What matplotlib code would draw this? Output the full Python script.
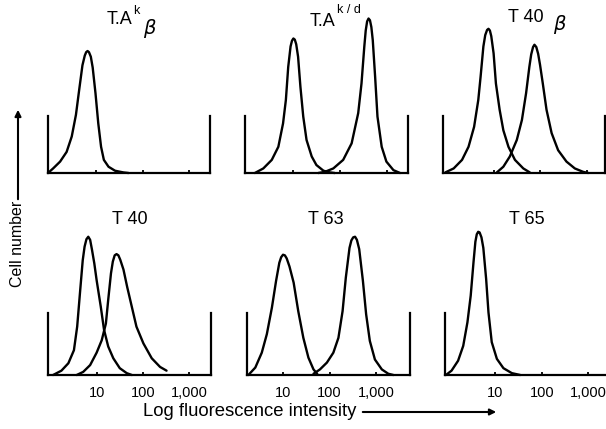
import matplotlib
matplotlib.use("Agg")
import matplotlib.pyplot as plt
from matplotlib.patches import FancyArrowPatch

plt.rcParams["font.family"] = ["Liberation Sans", "DejaVu Sans"]

# x values are log10(fluorescence intensity), y values are relative cell number
# (1.0 = height of the side bars of each panel)
tick_pos = [1, 2, 3]
tick_labels = ["10", "100", "1,000"]

# T.A^k beta
tak_x = [-0.03, 0.08, 0.23, 0.37, 0.48, 0.57, 0.64, 0.71, 0.76, 0.79, 0.82, 0.85, 0.89,
         0.93, 0.99, 1.05, 1.11, 1.17, 1.27, 1.41, 1.59, 1.70]
tak_y = [0.0, 0.08, 0.20, 0.37, 0.64, 1.02, 1.46, 1.89, 2.06, 2.12, 2.14, 2.12, 2.04,
         1.85, 1.40, 0.87, 0.46, 0.23, 0.11, 0.04, 0.01, 0.0]

# T.A^k/d
takd1_x = [0.19, 0.37, 0.55, 0.69, 0.79, 0.85, 0.90, 0.95, 0.98, 1.01, 1.04, 1.07, 1.11,
           1.16, 1.22, 1.29, 1.40, 1.50, 1.65, 1.79, 1.89]
takd1_y = [0.0, 0.08, 0.23, 0.46, 0.87, 1.28, 1.86, 2.22, 2.32, 2.36, 2.34, 2.26, 2.04,
           1.51, 0.99, 0.58, 0.29, 0.14, 0.04, 0.01, 0.0]
takd2_x = [1.54, 1.68, 1.86, 2.07, 2.25, 2.39, 2.46, 2.52, 2.55, 2.58, 2.61, 2.64, 2.67,
           2.70, 2.75, 2.80, 2.89, 2.99, 3.14, 3.28]
takd2_y = [0.0, 0.02, 0.08, 0.23, 0.52, 1.05, 1.57, 2.22, 2.50, 2.66, 2.71, 2.68, 2.56,
           2.33, 1.69, 0.99, 0.46, 0.20, 0.05, 0.0]

# T 40 beta
t40b1_x = [-0.05, 0.13, 0.31, 0.45, 0.57, 0.66, 0.71, 0.77, 0.81, 0.85, 0.88, 0.91, 0.94,
           0.99, 1.04, 1.12, 1.20, 1.31, 1.45, 1.63, 1.77]
t40b1_y = [0.01, 0.08, 0.23, 0.46, 0.81, 1.28, 1.69, 2.22, 2.42, 2.51, 2.53, 2.50, 2.40,
           2.10, 1.57, 1.11, 0.75, 0.46, 0.23, 0.08, 0.01]
t40b2_x = [1.06, 1.20, 1.34, 1.49, 1.60, 1.69, 1.76, 1.80, 1.84, 1.87, 1.91, 1.95, 1.99,
           2.05, 2.13, 2.24, 2.38, 2.56, 2.74, 2.92, 3.03]
t40b2_y = [0.01, 0.11, 0.29, 0.58, 0.93, 1.40, 1.86, 2.08, 2.21, 2.25, 2.21, 2.09, 1.90,
           1.57, 1.11, 0.70, 0.40, 0.20, 0.08, 0.02, 0.0]

# T 40
t40a_x = [0.06, 0.24, 0.39, 0.51, 0.58, 0.64, 0.70, 0.74, 0.78, 0.82, 0.86, 0.90, 0.95,
          1.00, 1.09, 1.16, 1.25, 1.36, 1.50, 1.65, 1.76]
t40a_y = [0.0, 0.07, 0.19, 0.40, 0.78, 1.32, 1.85, 2.07, 2.19, 2.23, 2.18, 2.02, 1.80,
          1.53, 1.10, 0.73, 0.46, 0.27, 0.11, 0.03, 0.0]
t40c_x = [0.57, 0.71, 0.86, 1.00, 1.11, 1.20, 1.25, 1.31, 1.35, 1.39, 1.43, 1.47, 1.51,
          1.58, 1.66, 1.76, 1.86, 2.01, 2.19, 2.37, 2.51]
t40c_y = [0.0, 0.05, 0.16, 0.36, 0.56, 0.83, 1.21, 1.64, 1.83, 1.93, 1.95, 1.93, 1.86,
          1.70, 1.42, 1.10, 0.78, 0.51, 0.27, 0.13, 0.07]

# T 63
t63a_x = [0.24, 0.39, 0.53, 0.64, 0.75, 0.84, 0.91, 0.95, 0.99, 1.03, 1.07, 1.13, 1.22,
          1.32, 1.43, 1.54, 1.65, 1.73]
t63a_y = [0.0, 0.12, 0.36, 0.66, 1.09, 1.52, 1.81, 1.90, 1.94, 1.93, 1.88, 1.75, 1.49,
          1.03, 0.60, 0.28, 0.09, 0.02]
t63b_x = [1.65, 1.79, 1.94, 2.08, 2.19, 2.28, 2.35, 2.43, 2.47, 2.51, 2.55, 2.59, 2.64,
          2.72, 2.79, 2.87, 2.98, 3.13, 3.27, 3.38]
t63b_y = [0.02, 0.09, 0.20, 0.36, 0.60, 1.03, 1.57, 2.05, 2.17, 2.22, 2.23, 2.18, 2.03,
          1.52, 0.98, 0.55, 0.25, 0.09, 0.02, 0.0]

# T 65
t65_x = [-0.05, 0.07, 0.21, 0.32, 0.41, 0.48, 0.54, 0.58, 0.61, 0.64, 0.67, 0.71, 0.75,
         0.81, 0.86, 0.93, 1.04, 1.18, 1.36, 1.54]
t65_y = [0.0, 0.07, 0.23, 0.47, 0.85, 1.28, 1.82, 2.15, 2.27, 2.31, 2.30, 2.22, 2.05,
         1.55, 1.01, 0.53, 0.26, 0.11, 0.03, 0.0]

W, H = 606, 429
fig = plt.figure(figsize=(W / 100, H / 100), dpi=100)


def fx(px):
    return px / W


def fy(py):
    return 1 - py / H


def panel(l, r, t, b, xlim, curves, labels):
    ax = fig.add_axes([fx(l), fy(b), fx(r - l), (b - t) / H])
    for x, y in curves:
        ax.plot(x, y, color="black", lw=1.7, clip_on=False,
                solid_joinstyle="round", solid_capstyle="round")
    ax.set_xlim(xlim)
    ax.set_ylim(0, 1)
    ax.spines["top"].set_visible(False)
    for s in ["left", "right", "bottom"]:
        ax.spines[s].set_linewidth(1.6)
    ax.set_yticks([])
    ax.set_xticks(tick_pos)
    ax.tick_params(axis="x", direction="in", length=2.5, width=1.3, pad=8,
                   labelsize=10.5)
    if labels:
        ax.set_xticklabels(tick_labels)
    else:
        ax.set_xticklabels([])
    return ax


panel(48, 210, 116, 173, (-0.03, 3.45), [(tak_x, tak_y)], False)
panel(245, 408, 116, 173, (-0.02, 3.45), [(takd1_x, takd1_y), (takd2_x, takd2_y)], False)
panel(443, 605, 116, 173, (-0.10, 3.39), [(t40b1_x, t40b1_y), (t40b2_x, t40b2_y)], False)
panel(48, 211, 313, 375, (-0.05, 3.47), [(t40a_x, t40a_y), (t40c_x, t40c_y)], True)
panel(247, 410, 313, 375, (0.21, 3.74), [(t63a_x, t63a_y), (t63b_x, t63b_y)], True)
panel(445, 610, 313, 375, (-0.07, 3.46), [(t65_x, t65_y)], True)

# panel titles
ts = 13
fig.text(fx(107), fy(20), "T.A", fontsize=ts, ha="left", va="center")
fig.text(fx(133), fy(11), "k", fontsize=9, ha="left", va="center")
fig.text(fx(143), fy(28), r"$\beta$", fontsize=ts + 1, ha="left", va="center")
fig.text(fx(310), fy(22), "T.A", fontsize=ts, ha="left", va="center")
fig.text(fx(337), fy(10), "k / d", fontsize=9, ha="left", va="center")
fig.text(fx(508), fy(17), "T 40", fontsize=ts, ha="left", va="center")
fig.text(fx(553), fy(25), r"$\beta$", fontsize=ts + 1, ha="left", va="center")
fig.text(fx(130), fy(220), "T 40", fontsize=ts, ha="center", va="center")
fig.text(fx(326), fy(220), "T 63", fontsize=ts, ha="center", va="center")
fig.text(fx(527), fy(220), "T 65", fontsize=ts, ha="center", va="center")

# axis labels with arrows
fig.text(fx(18), fy(244), "Cell number", fontsize=11.5, rotation=90,
         ha="center", va="center")
fig.add_artist(FancyArrowPatch((fx(18), fy(202)), (fx(18), fy(107)),
                               transform=fig.transFigure, arrowstyle="-|>",
                               mutation_scale=9, lw=1.5, color="black"))
fig.text(fx(143), fy(412), "Log fluorescence intensity", fontsize=13.3,
         ha="left", va="center")
fig.add_artist(FancyArrowPatch((fx(360), fy(412)), (fx(499), fy(412)),
                               transform=fig.transFigure, arrowstyle="-|>",
                               mutation_scale=9, lw=1.5, color="black"))

fig.savefig("out.png", dpi=100)
